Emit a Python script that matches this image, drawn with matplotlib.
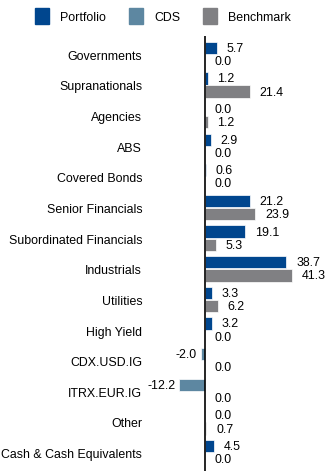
import matplotlib.pyplot as plt
import matplotlib.patches as mpatches
import numpy as np

plt.rcParams['font.family'] = ['Liberation Sans', 'DejaVu Sans']

categories = ['Governments', 'Supranationals', 'Agencies', 'ABS', 'Covered Bonds',
              'Senior Financials', 'Subordinated Financials', 'Industrials', 'Utilities',
              'High Yield', 'CDX.USD.IG', 'ITRX.EUR.IG', 'Other', 'Cash & Cash Equivalents']
portfolio = [5.7, 1.2, 0.0, 2.9, 0.6, 21.2, 19.1, 38.7, 3.3, 3.2, None, None, 0.0, 4.5]
cds = [None, None, None, None, None, None, None, None, None, None, -2.0, -12.2, None, None]
benchmark = [0.0, 21.4, 1.2, 0.0, 0.0, 23.9, 5.3, 41.3, 6.2, 0.0, 0.0, 0.0, 0.7, 0.0]

c_port = '#00468E'
c_cds = '#5D87A1'
c_bench = '#808083'
fs = 8.9

fig = plt.figure(figsize=(3.3, 4.77), dpi=100)
ax = fig.add_axes([0.45, 0.0105, 0.55, 0.912])

y = np.arange(len(categories))
h = 0.40
off = 0.215

port_vals = np.array([np.nan if v is None else v for v in portfolio])
cds_vals = np.array([np.nan if v is None else v for v in cds])
bench_vals = np.array(benchmark)

ax.barh(y - off, port_vals, height=h, color=c_port, edgecolor='white', linewidth=0.5)
ax.barh(y - off, cds_vals, height=h, color=c_cds, edgecolor='white', linewidth=0.5)
ax.barh(y + off, bench_vals, height=h, color=c_bench, edgecolor='white', linewidth=0.5)

def label(v, yy):
    if v >= 0:
        ax.annotate(f'{v:.1f}', (v, yy), xytext=(7, 0), textcoords='offset points',
                    ha='left', va='center', fontsize=fs)
    else:
        ax.annotate(f'{v:.1f}', (v, yy), xytext=(-3, 0), textcoords='offset points',
                    ha='right', va='center', fontsize=fs)

for i in range(len(categories)):
    top = portfolio[i] if portfolio[i] is not None else cds[i]
    label(top, y[i] - off)
    label(benchmark[i], y[i] + off)

ax.axvline(0, color='black', linewidth=1.2)
ax.set_xlim(-26.9, 59.5)
ax.set_ylim(len(categories) - 0.4, -0.6)
ax.set_yticks(y)
ax.set_yticklabels(categories, fontsize=fs)
ax.tick_params(axis='y', length=0, pad=4.5)
ax.set_xticks([])
for s in ax.spines.values():
    s.set_visible(False)

handles = [mpatches.Patch(color=c_port, label='Portfolio'),
           mpatches.Patch(color=c_cds, label='CDS'),
           mpatches.Patch(color=c_bench, label='Benchmark')]
fig.legend(handles=handles, loc='center', bbox_to_anchor=(0.494, 1 - 17 / 477), ncol=3,
           frameon=False, fontsize=fs, handlelength=1.1, handleheight=1.5,
           handletextpad=0.9, columnspacing=1.9)

fig.savefig('out.png', dpi=100)
